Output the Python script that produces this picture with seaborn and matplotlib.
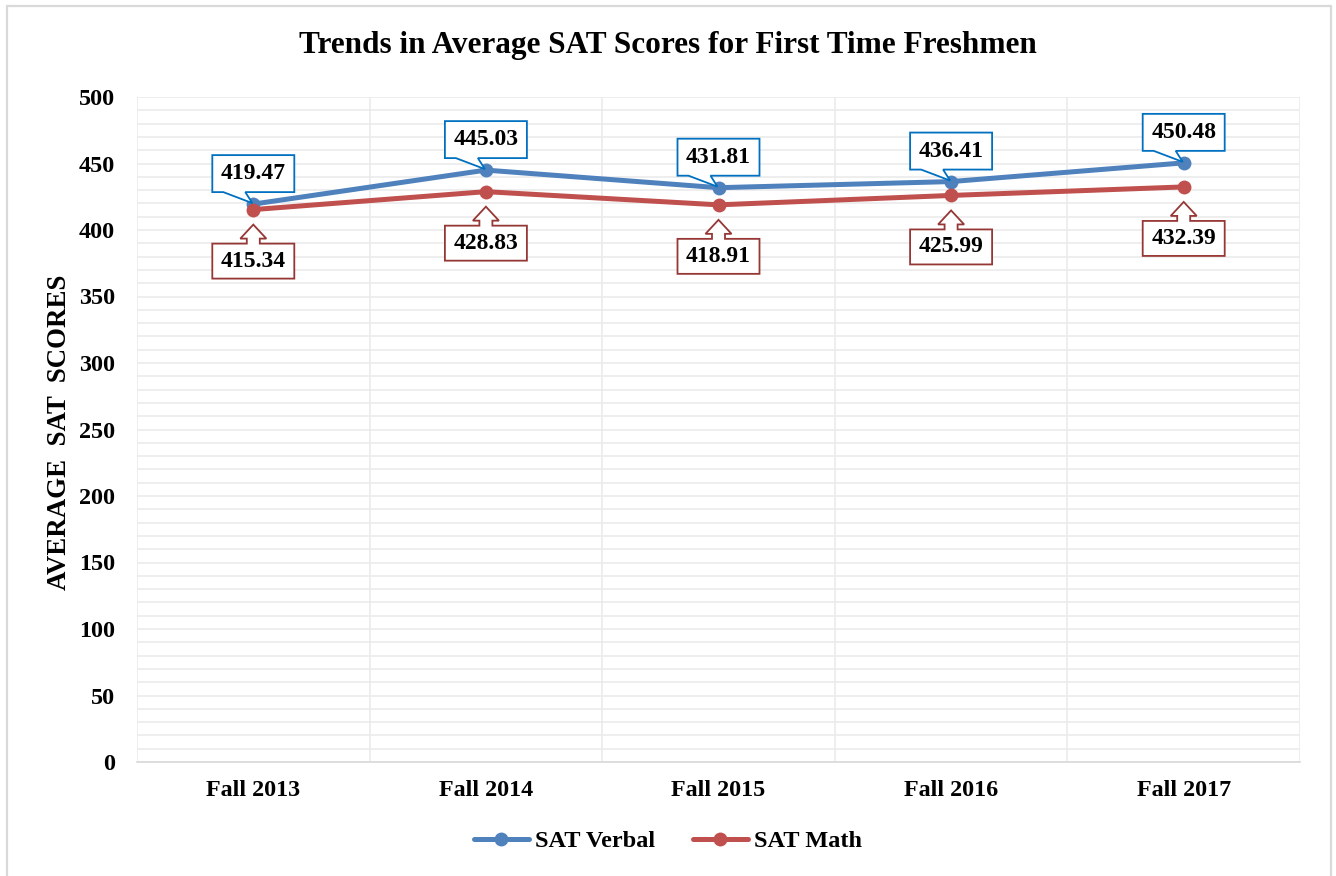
import numpy as np
import pandas as pd
import matplotlib
matplotlib.use("Agg")
import matplotlib.pyplot as plt
import matplotlib.transforms as mtransforms
from matplotlib.patches import Polygon, Rectangle
from matplotlib.lines import Line2D
import seaborn as sns

# 데이터
terms = ["Fall 2013", "Fall 2014", "Fall 2015", "Fall 2016", "Fall 2017"]
sat_verbal = [419.47, 445.03, 431.81, 436.41, 450.48]
sat_math = [415.34, 428.83, 418.91, 425.99, 432.39]
series_names = ["SAT Verbal", "SAT Math"]

df = pd.DataFrame({
    "idx": list(range(len(terms))) * 2,
    "term": terms * 2,
    "score": sat_verbal + sat_math,
    "series": [series_names[0]] * len(terms) + [series_names[1]] * len(terms),
})

blue = "#4F81BD"
red = "#C0504D"
palette = {series_names[0]: blue, series_names[1]: red}

sns.set_theme(style="white")
plt.rcParams["font.family"] = ["Liberation Serif", "DejaVu Sans"]
plt.rcParams["font.weight"] = "bold"
plt.rcParams["text.color"] = "black"
plt.rcParams["xtick.labelcolor"] = "black"
plt.rcParams["ytick.labelcolor"] = "black"

fig = plt.figure(figsize=(13.36, 8.76), dpi=100)
ax = fig.add_axes([137 / 1336, 1 - 762 / 876, (1300 - 137) / 1336, (762 - 97) / 876])

sns.lineplot(data=df, x="idx", y="score", hue="series", palette=palette,
             marker="o", markersize=10, markeredgewidth=0, linewidth=3.6,
             legend=False, ax=ax, zorder=3)

# 축 설정
ax.set_xlim(-0.5, len(terms) - 0.5)
ax.set_ylim(0, 500)
ax.set_yticks(np.arange(0, 501, 50))
ax.set_yticks(np.arange(0, 501, 10), minor=True)
ax.set_xticks(range(len(terms)))
ax.set_xticks(np.arange(-0.5, len(terms), 1), minor=True)
ax.set_xticklabels(terms, fontsize=17.4, fontweight="bold", color="black")
ax.set_yticklabels([str(v) for v in range(0, 501, 50)], fontsize=17.4, fontweight="bold", color="black")
ax.set_xlabel("")
ax.set_ylabel("")
ax.tick_params(axis="both", which="both", length=0)
ax.tick_params(axis="y", pad=16)
ax.tick_params(axis="x", pad=13)
ax.grid(True, which="both", axis="y", color="#EBEBEB", linewidth=1.2, zorder=0)
ax.grid(True, which="minor", axis="x", color="#EBEBEB", linewidth=1.2, zorder=0)
ax.grid(False, which="major", axis="x")
for side in ["top", "right", "left"]:
    ax.spines[side].set_visible(False)
ax.spines["bottom"].set_color("#D9D9D9")
ax.spines["bottom"].set_linewidth(1.2)

# 콜아웃 (픽셀 오프셋)
verbal_shape = [(-41, 49), (41, 49), (41, 12), (-8, 12), (-1, 1), (-30, 12), (-41, 12)]
math_shape = [(0, -15), (13, -29), (6.5, -29), (6.5, -34), (41, -34), (41, -69),
              (-41, -69), (-41, -34), (-6.5, -34), (-6.5, -29), (-13, -29)]

def add_callout(x, y, value, shape, text_dy, edge):
    px, py = ax.transData.transform((x, y))
    tr = mtransforms.Affine2D().translate(px, py)
    poly = Polygon(shape, closed=True, transform=tr, facecolor="white",
                   edgecolor=edge, linewidth=1.3, zorder=5)
    fig.patches.append(poly)
    fig.text(px / fig.bbox.width, (py + text_dy) / fig.bbox.height, f"{value:.2f}",
             ha="center", va="center", fontsize=17, fontweight="bold", color="black", zorder=6)

for i in range(len(terms)):
    add_callout(i, sat_verbal[i], sat_verbal[i], verbal_shape, 30.5, "#0070C0")
    add_callout(i, sat_math[i], sat_math[i], math_shape, -51.5, "#953735")

# 제목, 축 레이블
fig.text(0.5, 1 - 45 / 876, "Trends in Average SAT Scores for First Time Freshmen",
         ha="center", va="center", fontsize=22.5, fontweight="bold", color="black")
fig.text(60 / 1336, 1 - 432 / 876, "AVERAGE  SAT  SCORES", rotation=90,
         ha="center", va="center", fontsize=19.4, fontweight="bold", color="black")

# 범례
handles = [Line2D([0], [0], color=blue, lw=3.6, marker="o", markersize=10, markeredgewidth=0),
           Line2D([0], [0], color=red, lw=3.6, marker="o", markersize=10, markeredgewidth=0)]
fig.legend(handles, series_names, loc="center", bbox_to_anchor=(668 / 1336, 1 - 841 / 876),
           ncol=2, frameon=False, handlelength=2.26, handletextpad=0.25, columnspacing=1.56,
           prop={"size": 17.5, "weight": "bold"})

# 외곽 테두리
fig.patches.append(Rectangle((6.5 / 1336, -0.05), (1331 - 6.5) / 1336, 1.05 - 6.5 / 876,
                             transform=fig.transFigure, fill=False,
                             edgecolor="#D9D9D9", linewidth=1.6))

fig.savefig("out.png", dpi=100, facecolor="white")
